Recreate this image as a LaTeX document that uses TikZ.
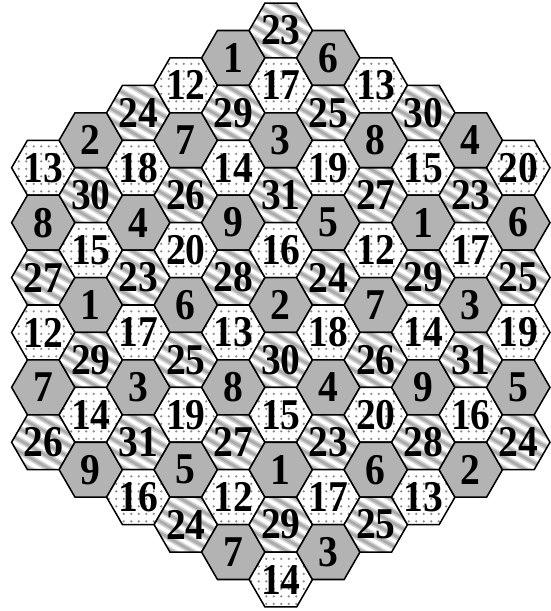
\documentclass[tikz,border=0pt]{standalone}
\usepackage{fontspec}
\setmainfont{Liberation Serif}
\definecolor{hexgray}{RGB}{179,179,179}
\newcommand\hexshape[2]{(#1,#2) ++(31.7,0) -- ++(-15.85,27.45) -- ++(-31.7,0) -- ++(-15.85,-27.45) -- ++(15.85,-27.45) -- ++(31.7,0) -- cycle}
\newcommand\numfmt[1]{\scalebox{0.9}[1]{#1}}
\tikzset{
  hexline/.style={draw=black, line width=1.3pt, line join=miter},
  numtext/.style={font=\bfseries\fontsize{37.5}{37.5}\selectfont, inner sep=0pt, text=black},
  dotmark/.style={fill=gray!90},
  stripesoft/.style={draw=gray!35, line width=5.2pt},
  stripecore/.style={draw=gray!65, line width=2.4pt},
}
\begin{document}
\begin{tikzpicture}[x=0.03cm,y=-0.03cm]
\useasboundingbox (0,0) rectangle (550,611);
\def\hexdata{-5/2/27.45/{13,8,27,12,7,26},
  -4/2/0/{2,30,15,1,29,14,9},
  -3/1/27.45/{24,18,4,23,17,3,31,16},
  -2/1/0/{12,7,26,20,6,25,19,5,24},
  -1/0/27.45/{1,29,14,9,28,13,8,27,12,7},
  0/0/0/{23,17,3,31,16,2,30,15,1,29,14},
  1/0/27.45/{6,25,19,5,24,18,4,23,17,3},
  2/1/0/{13,8,27,12,7,26,20,6,25},
  3/1/27.45/{30,15,1,29,14,9,28,13},
  4/2/0/{4,23,17,3,31,16,2},
  5/2/27.45/{20,6,25,19,5,24}}
% hexagons
\foreach \c/\kz/\off/\nums in \hexdata {
  \foreach \n [count=\i from 0] in \nums {
    \pgfmathsetmacro\hx{280.8+47.5*\c}
    \pgfmathsetmacro\hy{30.5+54.9*(\kz+\i)+\off}
    \ifnum\n<10
      \fill[hexgray] \hexshape{\hx}{\hy};
    \else\ifnum\n<21
      \begin{scope}
        \clip \hexshape{\hx}{\hy};
        \fill[white] \hexshape{\hx}{\hy};
        \foreach \di in {-5,...,5} {
          \foreach \dj in {-5,...,5} {
            \pgfmathsetmacro\dx{7.5*(floor(\hx/7.5)+\di)+3.75}
            \pgfmathsetmacro\dy{7.5*(floor(\hy/7.5)+\dj)+3.75}
            \fill[dotmark] (\dx,\dy) circle[radius=1.25];
          }
        }
      \end{scope}
    \else
      \begin{scope}
        \clip \hexshape{\hx}{\hy};
        \fill[white] \hexshape{\hx}{\hy};
        \foreach \s in {-6,...,6} {
          \pgfmathsetmacro\sx{\hx-5*\s}
          \pgfmathsetmacro\sy{\hy+8.66*\s}
          \draw[stripesoft] (\sx,\sy) ++(-43.3,-25) -- ++(86.6,50);
          \draw[stripecore] (\sx,\sy) ++(-43.3,-25) -- ++(86.6,50);
        }
      \end{scope}
    \fi\fi
    \draw[hexline] \hexshape{\hx}{\hy};
  }
}
% numbers
\foreach \c/\kz/\off/\nums in \hexdata {
  \foreach \n [count=\i from 0] in \nums {
    \pgfmathsetmacro\hx{280.8+47.5*\c}
    \pgfmathsetmacro\hy{30.5+54.9*(\kz+\i)+\off}
    \node[numtext] (t\c-\i) at (\hx,\hy) {\numfmt{\n}};
  }
}
\end{tikzpicture}
\end{document}
